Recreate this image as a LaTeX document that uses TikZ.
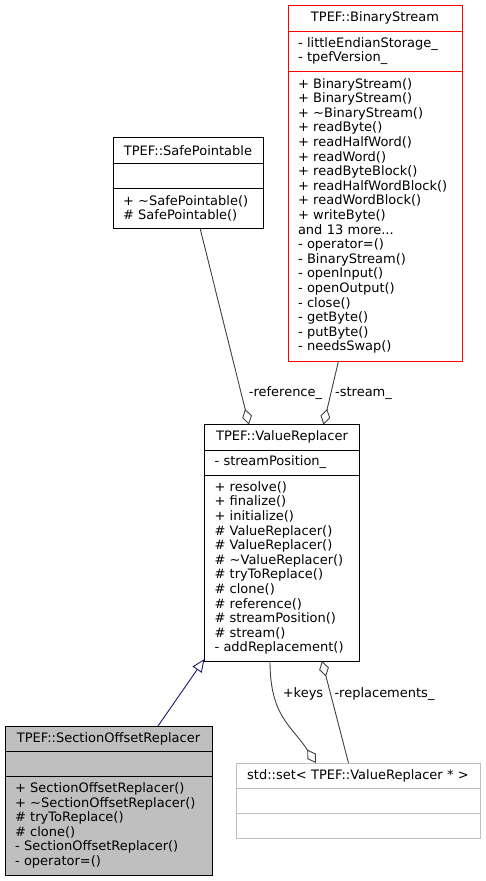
\documentclass[tikz,border=0pt]{standalone}
\usepackage{fontspec}
\setmainfont{DejaVu Sans}
\usetikzlibrary{arrows.meta}
\definecolor{edgegray}{HTML}{404040}
\definecolor{navyblue}{HTML}{191970}
\definecolor{boxgray}{HTML}{BFBFBF}
\definecolor{boxred}{HTML}{FF0000}

\begin{document}
\begin{tikzpicture}[x=1pt,y=-1pt,
  box/.style={draw,text=black,line width=1pt,inner xsep=10pt,inner ysep=0pt,
              outer sep=0pt,anchor=north west,font=\fontsize{13}{14.6}\selectfont},
  head/.style={box,align=center},
  part/.style={box,align=left},
  aggr/.style={draw=edgegray,line width=0.9pt,
               -{Diamond[open,length=16pt,width=10pt]}},
  inherit/.style={draw=navyblue,line width=0.9pt,
                  -{Triangle[open,length=13pt,width=11pt]}},
  lbl/.style={anchor=base,inner sep=0pt,font=\fontsize{13}{14.6}\selectfont}]

\useasboundingbox (0,0) rectangle (485,881);

% TPEF::BinaryStream
\node[head,draw=boxred,text width=154pt,minimum height=26.5pt] (bst) at (288,5) {TPEF::BinaryStream};
\node[part,draw=boxred,text width=154pt,minimum height=39.5pt] (bsa) at (bst.south west) {- littleEndianStorage\_\\- tpefVersion\_};
\node[part,draw=boxred,text width=154pt,minimum height=290pt] (bsm) at (bsa.south west) {+ BinaryStream()\\+ BinaryStream()\\+ \textasciitilde BinaryStream()\\+ readByte()\\+ readHalfWord()\\+ readWord()\\+ readByteBlock()\\+ readHalfWordBlock()\\+ readWordBlock()\\+ writeByte()\\and 13 more...\\- operator=()\\- BinaryStream()\\- openInput()\\- openOutput()\\- close()\\- getByte()\\- putByte()\\- needsSwap()};

% TPEF::SafePointable
\node[head,text width=130pt,minimum height=25.5pt] (spt) at (113,137.5) {TPEF::SafePointable};
\node[part,text width=130pt,minimum height=25.5pt] (spa) at (spt.south west) {};
\node[part,text width=130pt,minimum height=39.5pt] (spm) at (spa.south west) {+ \textasciitilde SafePointable()\\\# SafePointable()};

% TPEF::ValueReplacer
\node[head,text width=135pt,minimum height=25.5pt] (vrt) at (204.5,424.5) {TPEF::ValueReplacer};
\node[part,text width=135pt,minimum height=25pt] (vra) at (vrt.south west) {- streamPosition\_};
\node[part,text width=135pt,minimum height=186pt] (vrm) at (vra.south west) {+ resolve()\\+ finalize()\\+ initialize()\\\# ValueReplacer()\\\# ValueReplacer()\\\# \textasciitilde ValueReplacer()\\\# tryToReplace()\\\# clone()\\\# reference()\\\# streamPosition()\\\# stream()\\- addReplacement()};

% TPEF::SectionOffsetReplacer
\node[head,fill=boxgray,text width=187pt,minimum height=25pt] (sot) at (5,726) {TPEF::SectionOffsetReplacer};
\node[part,fill=boxgray,text width=187pt,minimum height=25pt] (soa) at (sot.south west) {};
\node[part,fill=boxgray,text width=187pt,minimum height=99pt] (som) at (soa.south west) {+ SectionOffsetReplacer()\\+ \textasciitilde SectionOffsetReplacer()\\\# tryToReplace()\\\# clone()\\- SectionOffsetReplacer()\\- operator=()};

% std::set< TPEF::ValueReplacer * >
\node[head,draw=boxgray,text width=224pt,minimum height=25pt] (sst) at (236,763) {std::set< TPEF::ValueReplacer * >};
\node[part,draw=boxgray,text width=224pt,minimum height=25pt] (ssa) at (sst.south west) {};
\node[part,draw=boxgray,text width=224pt,minimum height=25pt] (ssm) at (ssa.south west) {};

% edges
\draw[aggr] ([xshift=87pt]spm.south west) -- ([xshift=44.5pt]vrt.north west);
\draw[aggr] ([xshift=50.5pt]bsm.south west) -- ([xshift=119pt]vrt.north west);
\draw[inherit] ([xshift=153pt]sot.north west) -- ([yshift=2pt]vrm.south west);
\draw[aggr] ([xshift=65.5pt]vrm.south west) .. controls +(0,55) and +(-25,-38) .. ([xshift=80pt]sst.north west);
\draw[aggr] ([xshift=112.5pt]sst.north west) -- ([xshift=117.5pt]vrm.south west);

\node[lbl] (lref) at (285.5,396) {-reference\_};
\node[lbl] (lstr) at (363.5,396) {-stream\_};
\node[lbl] (lkey) at (303,697) {+keys};
\node[lbl] (lrep) at (384.5,697) {-replacements\_};
\end{tikzpicture}
\end{document}
